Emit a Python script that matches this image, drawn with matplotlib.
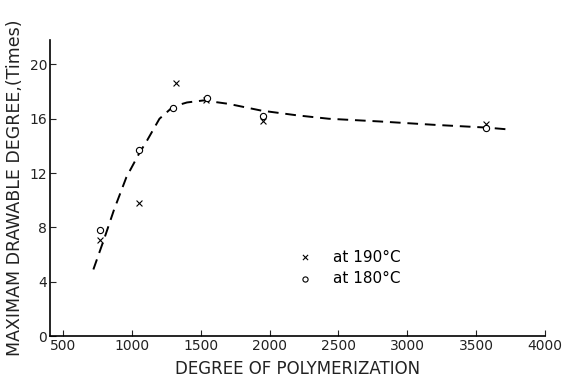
import matplotlib
matplotlib.use("Agg")
import matplotlib.pyplot as plt

# data
dp_190 = [770, 1050, 1320, 1540, 1950, 3575]
md_190 = [7.1, 9.8, 18.6, 17.4, 15.8, 15.6]
dp_180 = [770, 1050, 1300, 1545, 1950, 3575]
md_180 = [7.8, 13.7, 16.8, 17.5, 16.2, 15.3]
curve_x = [720, 800, 870, 960, 1050, 1110, 1200, 1300, 1400, 1520, 1700, 1940, 2200, 2430, 2800, 3200, 3575, 3750]
curve_y = [4.9, 7.2, 9.3, 11.7, 13.4, 14.4, 16.0, 16.9, 17.2, 17.35, 17.1, 16.6, 16.25, 16.0, 15.8, 15.55, 15.35, 15.2]
x_ticks = [500, 1000, 1500, 2000, 2500, 3000, 3500, 4000]
y_ticks = [0, 4, 8, 12, 16, 20]
legend_labels = ["at 190°C", "at 180°C"]

fig = plt.figure(figsize=(5.66, 3.86), dpi=100)
ax = fig.add_axes([50/566, 50/386, 495/566, 296/386])

ax.plot(curve_x, curve_y, color="black", lw=1.4, linestyle=(0, (5.5, 3.5)))
ax.scatter(dp_190, md_190, marker="x", s=18, color="black", lw=0.8, zorder=3)
ax.scatter(dp_180, md_180, marker="o", s=20, facecolors="white", edgecolors="black", lw=0.8, zorder=3)

ax.set_xlim(405, 4000)
ax.set_ylim(0, 21.8)
ax.set_xticks(x_ticks)
ax.set_yticks(y_ticks)
ax.spines["top"].set_visible(False)
ax.spines["right"].set_visible(False)
ax.spines["left"].set_linewidth(1.2)
ax.spines["bottom"].set_linewidth(1.2)
ax.tick_params(direction="in", length=4, width=0.8, labelsize=10, pad=2, colors="#222222")

ax.set_xlabel("DEGREE OF POLYMERIZATION", fontsize=12, labelpad=5, color="#222222")
ax.set_ylabel("MAXIMAM DRAWABLE DEGREE,(Times)", fontsize=12.5, labelpad=4, color="#222222")

# legend (hand-placed, as in the original figure)
leg_y = [5.8, 4.2]
ax.scatter([2260], [leg_y[0]], marker="x", s=14, color="black", lw=0.8)
ax.scatter([2260], [leg_y[1]], marker="o", s=14, facecolors="white", edgecolors="black", lw=0.8)
ax.text(2460, leg_y[0], legend_labels[0], fontsize=11, va="center")
ax.text(2460, leg_y[1], legend_labels[1], fontsize=11, va="center")

fig.savefig("out.png", dpi=100)
